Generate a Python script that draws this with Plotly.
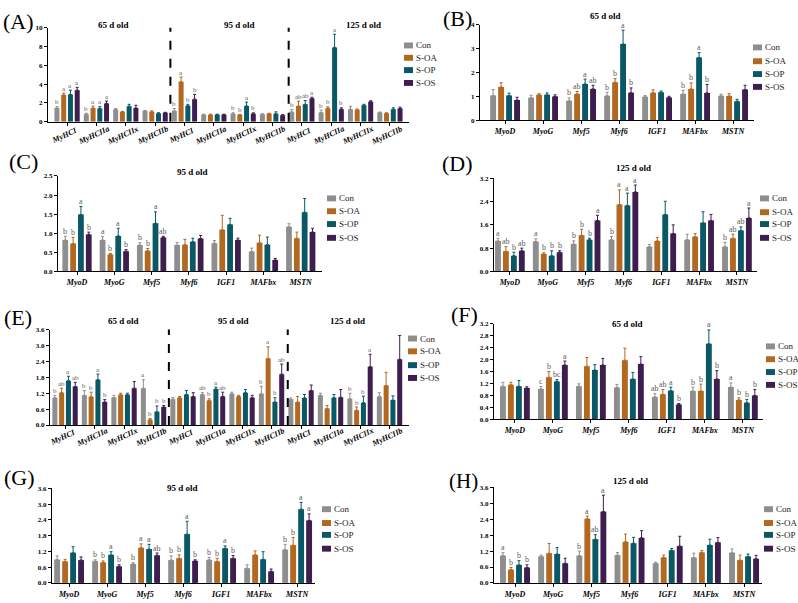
import plotly.graph_objects as go

W, H = 798, 603
FONT = "Liberation Serif"
SERIES = ["Con", "S-OA", "S-OP", "S-OS"]
COLORS = ["#8E8E8E", "#B3681F", "#0A5866", "#3D1E4E"]

MYHC = ["MyHCI", "MyHCIIa", "MyHCIIx", "MyHCIIb"]
MYHC3 = MYHC * 3
GENES = ["MyoD", "MyoG", "Myf5", "Myf6", "IGF1", "MAFbx", "MSTN"]

# ---------- Panel A (MyHC, 65/95/125 d) ----------
A_MEAN = [
    [1.45, 0.80, 1.30, 1.15, 1.15, 0.75, 0.85, 0.80, 1.05, 0.98, 1.33, 0.98],
    [2.85, 1.45, 1.05, 1.05, 4.25, 0.75, 0.73, 0.85, 1.68, 1.43, 1.26, 0.90],
    [2.90, 1.40, 1.65, 0.90, 1.70, 0.75, 1.68, 0.85, 1.85, 7.90, 1.75, 1.33],
    [3.35, 1.95, 1.45, 0.95, 2.40, 0.75, 0.84, 0.70, 2.48, 1.33, 2.13, 1.40],
]
A_ERR = [
    [0.15, 0.10, 0.10, 0.05, 0.25, 0.05, 0.10, 0.05, 0.25, 0.25, 0.30, 0.05],
    [0.20, 0.20, 0.05, 0.10, 0.50, 0.05, 0.05, 0.05, 0.50, 0.15, 0.10, 0.05],
    [0.45, 0.20, 0.20, 0.05, 0.15, 0.05, 0.40, 0.20, 0.40, 1.40, 0.10, 0.15],
    [0.30, 0.25, 0.30, 0.05, 0.50, 0.05, 0.10, 0.05, 0.12, 0.15, 0.10, 0.15],
]
A_SIG = [
    ["b", "b", "", "", "b", "", "b", "", "b", "b", "", ""],
    ["a", "a", "", "", "a", "", "b", "", "ab", "b", "", ""],
    ["a", "a", "", "", "b", "", "a", "", "ab", "a", "", ""],
    ["a", "a", "", "", "b", "", "b", "", "a", "b", "", ""],
]

# ---------- Panel B (65 d) ----------
B_MEAN = [
    [1.03, 0.94, 0.81, 1.02, 0.98, 1.10, 1.02],
    [1.39, 1.06, 1.10, 1.59, 1.15, 1.31, 1.01],
    [1.03, 1.06, 1.52, 3.19, 1.17, 2.63, 0.79],
    [0.84, 0.99, 1.31, 1.15, 0.95, 1.14, 1.28],
]
B_ERR = [
    [0.25, 0.10, 0.12, 0.15, 0.05, 0.15, 0.07],
    [0.18, 0.05, 0.10, 0.15, 0.12, 0.25, 0.10],
    [0.10, 0.08, 0.20, 0.58, 0.05, 0.20, 0.08],
    [0.12, 0.07, 0.15, 0.20, 0.05, 0.35, 0.18],
]
B_SIG = [
    ["", "", "b", "b", "", "b", ""],
    ["", "", "ab", "b", "", "b", ""],
    ["", "", "a", "a", "", "a", ""],
    ["", "", "ab", "b", "", "b", ""],
]

# ---------- Panel C (95 d) ----------
C_MEAN = [
    [0.82, 0.82, 0.69, 0.69, 0.74, 0.52, 1.17],
    [0.73, 0.44, 0.54, 0.70, 1.09, 0.75, 0.87],
    [1.49, 0.93, 1.26, 0.78, 1.23, 0.70, 1.55],
    [0.97, 0.53, 0.89, 0.86, 0.82, 0.30, 1.03],
]
C_ERR = [
    [0.10, 0.09, 0.06, 0.07, 0.07, 0.09, 0.08],
    [0.16, 0.03, 0.06, 0.14, 0.38, 0.20, 0.16],
    [0.21, 0.20, 0.30, 0.09, 0.16, 0.20, 0.36],
    [0.06, 0.04, 0.03, 0.08, 0.05, 0.04, 0.10],
]
C_SIG = [
    ["b", "a", "b", "", "", "", ""],
    ["b", "b", "b", "", "", "", ""],
    ["a", "a", "a", "", "", "", ""],
    ["b", "b", "ab", "", "", "", ""],
]

# ---------- Panel D (125 d) ----------
D_MEAN = [
    [1.05, 1.03, 0.94, 1.09, 0.85, 1.09, 0.85],
    [0.69, 0.60, 1.24, 2.30, 1.05, 1.19, 1.14],
    [0.54, 0.54, 1.09, 2.27, 1.96, 1.67, 1.41],
    [0.71, 0.66, 1.75, 2.73, 1.30, 1.75, 1.84],
]
D_ERR = [
    [0.09, 0.09, 0.11, 0.11, 0.08, 0.19, 0.15],
    [0.16, 0.04, 0.21, 0.50, 0.12, 0.11, 0.14],
    [0.12, 0.17, 0.05, 0.42, 0.45, 0.38, 0.12],
    [0.09, 0.05, 0.18, 0.24, 0.30, 0.21, 0.34],
]
D_SIG = [
    ["a", "a", "b", "b", "", "", "b"],
    ["ab", "b", "b", "a", "", "", "ab"],
    ["b", "b", "b", "a", "", "", "ab"],
    ["ab", "b", "a", "a", "", "", "a"],
]

# ---------- Panel E (MyHC, 65/95/125 d) ----------
E_MEAN = [
    [1.03, 1.12, 1.04, 1.39, 0.97, 1.15, 1.18, 1.18, 0.97, 1.12, 0.99, 1.08],
    [1.22, 1.07, 1.14, 0.20, 1.03, 0.93, 1.08, 2.51, 0.87, 0.62, 0.56, 1.49],
    [1.67, 1.71, 1.14, 0.50, 1.15, 1.36, 1.22, 0.87, 1.02, 1.03, 0.84, 0.94],
    [1.45, 0.87, 1.39, 0.68, 1.08, 1.08, 1.03, 1.92, 1.30, 1.05, 2.20, 2.48],
]
E_ERR = [
    [0.09, 0.18, 0.08, 0.32, 0.07, 0.07, 0.06, 0.28, 0.05, 0.08, 0.21, 0.14],
    [0.17, 0.17, 0.06, 0.04, 0.05, 0.06, 0.04, 0.44, 0.21, 0.12, 0.12, 0.50],
    [0.17, 0.21, 0.06, 0.22, 0.15, 0.07, 0.12, 0.16, 0.13, 0.12, 0.25, 0.16],
    [0.16, 0.09, 0.25, 0.06, 0.14, 0.16, 0.09, 0.38, 0.21, 0.29, 0.47, 0.90],
]
E_SIG = [
    ["b", "b", "", "a", "", "ab", "", "b", "", "", "b", ""],
    ["ab", "b", "", "b", "", "b", "", "a", "", "", "b", ""],
    ["a", "a", "", "b", "", "a", "", "b", "", "", "b", ""],
    ["ab", "b", "", "b", "", "ab", "", "ab", "", "", "a", ""],
]

# ---------- Panel F (65 d) ----------
F_MEAN = [
    [1.11, 1.02, 1.11, 1.07, 0.75, 0.95, 1.08],
    [1.16, 1.41, 1.78, 1.98, 0.84, 0.95, 0.65],
    [1.11, 1.27, 1.65, 1.35, 0.96, 2.53, 0.56],
    [1.05, 1.82, 1.82, 1.85, 0.50, 1.35, 0.80],
]
F_ERR = [
    [0.13, 0.08, 0.08, 0.10, 0.11, 0.13, 0.14],
    [0.08, 0.19, 0.29, 0.40, 0.16, 0.23, 0.07],
    [0.19, 0.06, 0.18, 0.22, 0.12, 0.46, 0.11],
    [0.04, 0.13, 0.22, 0.25, 0.03, 0.28, 0.20],
]
F_SIG = [
    ["", "c", "", "", "ab", "b", "a"],
    ["", "b", "", "", "ab", "b", "b"],
    ["", "bc", "", "", "a", "a", "b"],
    ["", "a", "", "", "b", "b", "b"],
]

# ---------- Panel G (95 d) ----------
G_MEAN = [
    [0.89, 0.83, 0.72, 0.87, 0.88, 0.56, 1.27],
    [0.82, 0.78, 1.34, 0.94, 0.82, 1.07, 1.44],
    [1.15, 1.07, 1.29, 1.86, 1.32, 0.90, 2.81],
    [0.87, 0.63, 1.05, 0.84, 0.94, 0.44, 2.38],
]
G_ERR = [
    [0.14, 0.05, 0.05, 0.16, 0.09, 0.13, 0.20],
    [0.08, 0.06, 0.15, 0.13, 0.12, 0.15, 0.29],
    [0.23, 0.12, 0.18, 0.49, 0.09, 0.29, 0.26],
    [0.12, 0.06, 0.09, 0.04, 0.10, 0.09, 0.25],
]
G_SIG = [
    ["", "b", "b", "b", "b", "", "b"],
    ["", "b", "a", "b", "b", "", "b"],
    ["", "a", "a", "a", "a", "", "a"],
    ["", "b", "ab", "b", "b", "", "a"],
]

# ---------- Panel H (125 d) ----------
H_MEAN = [
    [1.03, 1.00, 1.03, 1.05, 0.74, 0.96, 1.14],
    [0.50, 1.12, 2.42, 1.55, 0.96, 1.15, 0.86],
    [0.68, 1.09, 1.65, 1.50, 1.23, 1.43, 1.00],
    [0.58, 0.74, 2.69, 1.70, 1.39, 1.53, 0.91],
]
H_ERR = [
    [0.11, 0.05, 0.17, 0.10, 0.04, 0.16, 0.14],
    [0.08, 0.37, 0.10, 0.29, 0.09, 0.07, 0.19],
    [0.16, 0.24, 0.17, 0.22, 0.07, 0.22, 0.09],
    [0.10, 0.19, 0.62, 0.27, 0.37, 0.18, 0.13],
]
H_SIG = [
    ["a", "", "b", "", "", "", ""],
    ["b", "", "a", "", "", "", ""],
    ["b", "", "ab", "", "", "", ""],
    ["b", "", "a", "", "", "", ""],
]

fig = go.Figure()
axes = {}
annotations = []
shapes = []


def px(x):
    return x / W


def py(y):
    return 1 - y / H


def add_panel(k, cats, mean, err, sig, box, xr, yr, dtick, fmt, pitch, bw,
              rotated=False, lab_shift=-13, sig_size=8):
    xa = "x" if k == 1 else f"x{k}"
    ya = "y" if k == 1 else f"y{k}"
    n = len(cats)
    pos = list(range(n))
    for j, name in enumerate(SERIES):
        off = (j - 1.5) * pitch
        xs = [p + off for p in pos]
        fig.add_trace(go.Bar(
            x=xs, y=mean[j], width=bw, name=name, showlegend=False,
            marker=dict(color=COLORS[j], line=dict(width=0)),
            error_y=dict(type="data", symmetric=False, array=err[j],
                         arrayminus=[0] * n, color=COLORS[j],
                         thickness=1, width=1.5),
            xaxis=xa, yaxis=ya))
        for xi, m, e, s in zip(xs, mean[j], err[j], sig[j]):
            if s:
                annotations.append(dict(
                    x=xi, y=m + e, xref=xa, yref=ya, text=s, showarrow=False,
                    yanchor="bottom", borderpad=0, yshift=-0.5,
                    font=dict(family=FONT, size=sig_size, color="#5a5a5a")))
    x0, x1, yt, yb = box
    xaxis = dict(domain=[px(x0), px(x1)], range=xr, anchor=ya,
                 showline=True, linecolor="black", linewidth=1,
                 ticks="outside", ticklen=3, tickwidth=1, tickcolor="black",
                 showgrid=False, zeroline=False, tickvals=pos,
                 ticktext=[f"<b><i>{c}</i></b>" for c in cats],
                 tickfont=dict(family=FONT, size=8, color="black"))
    if rotated:
        xaxis["showticklabels"] = False
        for p, c in zip(pos, cats):
            annotations.append(dict(
                x=p, y=0, xref=xa, yref=ya, text=f"<b><i>{c}</i></b>",
                showarrow=False, textangle=-25, yanchor="middle",
                xanchor="center", yshift=lab_shift, xshift=-3,
                font=dict(family=FONT, size=8, color="black")))
    yaxis = dict(domain=[py(yb), py(yt)], range=yr, anchor=xa,
                 showline=True, linecolor="black", linewidth=1,
                 ticks="outside", ticklen=3, tickwidth=1, tickcolor="black",
                 showgrid=False, zeroline=False, dtick=dtick, tick0=0,
                 tickformat=fmt,
                 tickfont=dict(family=FONT, size=7, color="black", weight="bold"))
    axes["xaxis" if k == 1 else f"xaxis{k}"] = xaxis
    axes["yaxis" if k == 1 else f"yaxis{k}"] = yaxis
    return xa


def add_legend(sx, ys):
    for name, col, y in zip(SERIES, COLORS, ys):
        shapes.append(dict(type="rect", xref="paper", yref="paper",
                           x0=px(sx), x1=px(sx + 9), y0=py(y + 3), y1=py(y - 3),
                           fillcolor=col, line=dict(width=0)))
        annotations.append(dict(x=px(sx + 10), y=py(y), xref="paper", yref="paper",
                                text=name, showarrow=False, xanchor="left",
                                yanchor="middle",
                                font=dict(family=FONT, size=9, color="#222")))


def add_text(x, y, text, size, bold=False):
    annotations.append(dict(x=px(x), y=py(y), xref="paper", yref="paper",
                            text=f"<b>{text}</b>" if bold else text,
                            showarrow=False, xanchor="center", yanchor="middle",
                            font=dict(family=FONT, size=size, color="black")))


def add_dash(xa, ya, xv):
    shapes.append(dict(type="line", xref=xa, yref=f"{ya} domain",
                       x0=xv, x1=xv, y0=0, y1=1,
                       line=dict(color="black", width=2, dash="dash")))


# A
add_panel(1, MYHC3, A_MEAN, A_ERR, A_SIG, (48, 409, 24, 119.3), [-0.65, 11.65],
          [0, 10], 2, "", 0.23, 0.17, rotated=True, lab_shift=-14, sig_size=7)
add_dash("x", "y", 3.52)
add_dash("x", "y", 7.55)
add_legend(404, [42, 54.5, 67, 80])
add_text(18, 18, "(A)", 22)
add_text(113, 21, "65 d old", 9, True)
add_text(239, 21, "95 d old", 9, True)
add_text(363, 21, "125 d old", 9, True)

# B
add_panel(2, GENES, B_MEAN, B_ERR, B_SIG, (480, 754, 21, 117.7), [-0.66, 6.55],
          [0, 4], 1, "", 0.21, 0.155)
add_legend(753, [44, 58, 71, 84])
add_text(457, 15, "(B)", 22)
add_text(605, 12, "65 d old", 9, True)

# C
add_panel(3, GENES, C_MEAN, C_ERR, C_SIG, (58, 322, 174.3, 271), [-0.51, 6.57],
          [0, 2.5], 0.5, ".1f", 0.21, 0.155)
add_legend(327, [197, 210, 223, 237])
add_text(23, 160, "(C)", 22)
add_text(192, 170, "95 d old", 9, True)

# D
add_panel(4, GENES, D_MEAN, D_ERR, D_SIG, (494, 757, 176.7, 271), [-0.42, 6.53],
          [0, 3.2], 0.8, ".1f", 0.21, 0.155)
add_legend(760, [197, 211, 223, 237])
add_text(457, 162, "(D)", 22)
add_text(633, 166, "125 d old", 9, True)

# E
add_panel(5, MYHC3, E_MEAN, E_ERR, E_SIG, (50, 409, 330, 426.7), [-0.51, 11.66],
          [0, 3.6], 0.6, ".1f", 0.23, 0.17, rotated=True, lab_shift=-12, sig_size=7)
add_dash("x5", "y5", 3.52)
add_dash("x5", "y5", 7.55)
add_legend(408, [339, 352, 366, 379])
add_text(18, 318, "(E)", 22)
add_text(123, 321, "65 d old", 9, True)
add_text(233, 321, "95 d old", 9, True)
add_text(347, 321, "125 d old", 9, True)

# F
add_panel(6, GENES, F_MEAN, F_ERR, F_SIG, (494, 763, 324, 421), [-0.55, 6.53],
          [0, 3.2], 0.4, ".1f", 0.21, 0.155)
add_legend(766, [347, 360, 373, 386])
add_text(464, 315, "(F)", 22)
add_text(627, 324, "65 d old", 9, True)

# G
add_panel(7, GENES, G_MEAN, G_ERR, G_SIG, (52, 315, 491, 586.7), [-0.45, 6.47],
          [0, 3.6], 0.6, ".1f", 0.21, 0.155)
add_legend(322, [512, 526, 538, 552])
add_text(19, 480, "(G)", 22)
add_text(182, 491, "95 d old", 9, True)

# H
add_panel(8, GENES, H_MEAN, H_ERR, H_SIG, (494, 762, 490, 586.7), [-0.55, 6.47],
          [0, 3.6], 0.6, ".1f", 0.21, 0.155)
add_legend(764, [512, 526, 538, 552])
add_text(463, 483, "(H)", 21)
add_text(630, 483, "125 d old", 9, True)

fig.update_layout(
    width=W, height=H, margin=dict(l=0, r=0, t=0, b=0),
    paper_bgcolor="white", plot_bgcolor="white",
    barmode="overlay", showlegend=False,
    font=dict(family=FONT, color="black"),
    annotations=annotations, shapes=shapes, **axes)

# remove the browser's default 8px page margin so the figure sits at (0, 0)
fig.write_html("out.html",
               config={"displayModeBar": False},
               post_script="document.body.style.margin='0';"
                           "document.body.style.overflow='hidden';")
